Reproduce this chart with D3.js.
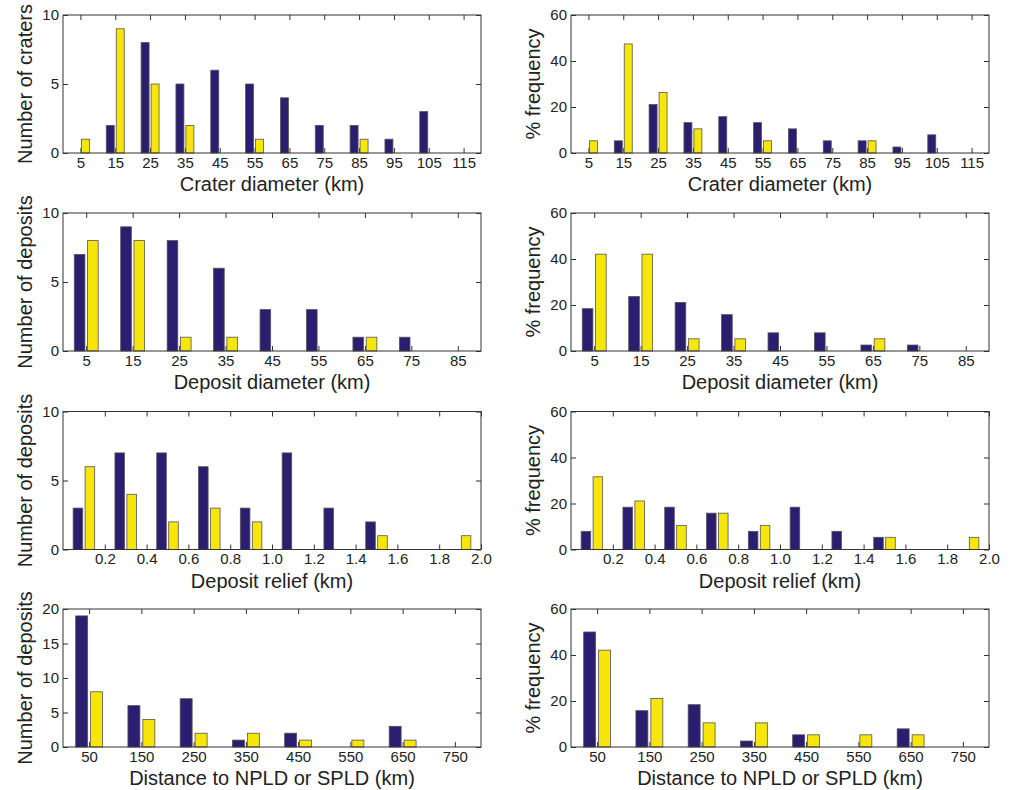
<!DOCTYPE html>
<html>
<head>
<meta charset="utf-8">
<script src="https://cdn.jsdelivr.net/npm/d3@7"></script>
<style>
  body { margin: 0; background: #fff; }
  svg { display: block; }
  text { font-family: "Liberation Sans", Arial, Helvetica, sans-serif; fill: #222; }
</style>
</head>
<body>
<svg id="fig" width="1010" height="790"></svg>
<script>
// ---- Crater diameter (bin centres, km) ----
const craterBins = [5, 15, 25, 35, 45, 55, 65, 75, 85, 95, 105, 115];
const craterCountA = [0, 2, 8, 5, 6, 5, 4, 2, 2, 1, 3, 0];
const craterCountB = [1, 9, 5, 2, 0, 1, 0, 0, 1, 0, 0, 0];
const craterPctA = [0, 5.3, 21.1, 13.2, 15.8, 13.2, 10.5, 5.3, 5.3, 2.6, 7.9, 0];
const craterPctB = [5.3, 47.4, 26.3, 10.5, 0, 5.3, 0, 0, 5.3, 0, 0, 0];

// ---- Deposit diameter (km) ----
const diamBins = [5, 15, 25, 35, 45, 55, 65, 75, 85];
const diamCountA = [7, 9, 8, 6, 3, 3, 1, 1, 0];
const diamCountB = [8, 8, 1, 1, 0, 0, 1, 0, 0];
const diamPctA = [18.4, 23.7, 21.1, 15.8, 7.9, 7.9, 2.6, 2.6, 0];
const diamPctB = [42.1, 42.1, 5.3, 5.3, 0, 0, 5.3, 0, 0];

// ---- Deposit relief (km) ----
const reliefBins = [0.1, 0.3, 0.5, 0.7, 0.9, 1.1, 1.3, 1.5, 1.7, 1.9];
const reliefTicks = [0.2, 0.4, 0.6, 0.8, 1.0, 1.2, 1.4, 1.6, 1.8, 2.0];
const reliefCountA = [3, 7, 7, 6, 3, 7, 3, 2, 0, 0];
const reliefCountB = [6, 4, 2, 3, 2, 0, 0, 1, 0, 1];
const reliefPctA = [7.9, 18.4, 18.4, 15.8, 7.9, 18.4, 7.9, 5.3, 0, 0];
const reliefPctB = [31.6, 21.1, 10.5, 15.8, 10.5, 0, 0, 5.3, 0, 5.3];

// ---- Distance to NPLD or SPLD (km) ----
const distBins = [50, 150, 250, 350, 450, 550, 650, 750];
const distCountA = [19, 6, 7, 1, 2, 0, 3, 0];
const distCountB = [8, 4, 2, 2, 1, 1, 1, 0];
const distPctA = [50, 15.8, 18.4, 2.6, 5.3, 0, 7.9, 0];
const distPctB = [42.1, 21.1, 10.5, 10.5, 5.3, 5.3, 5.3, 0];

// ---- Y tick values ----
const countTicks10 = [0, 5, 10];
const countTicks20 = [0, 5, 10, 15, 20];
const pctTicks = [0, 20, 40, 60];

const colorA = "#2b1d6f";
const colorB = "#f7e60a";

const colLeft = [63, 571];
const colRight = [481, 989];
const rowTop = [15, 213, 411.5, 609];
const plotH = 138;

const intFmt = d3.format("d");
const oneDec = d3.format(".1f");

const rows = [
  { bins: craterBins, xMax: 120, xTicks: craterBins, fmt: intFmt, xLabel: "Crater diameter (km)",
    left: { a: craterCountA, b: craterCountB, yMax: 10, yTicks: countTicks10, yLabel: "Number of craters" },
    right: { a: craterPctA, b: craterPctB, yMax: 60, yTicks: pctTicks, yLabel: "% frequency" } },
  { bins: diamBins, xMax: 90, xTicks: diamBins, fmt: intFmt, xLabel: "Deposit diameter (km)",
    left: { a: diamCountA, b: diamCountB, yMax: 10, yTicks: countTicks10, yLabel: "Number of deposits" },
    right: { a: diamPctA, b: diamPctB, yMax: 60, yTicks: pctTicks, yLabel: "% frequency" } },
  { bins: reliefBins, xMax: 2.0, xTicks: reliefTicks, fmt: oneDec, xLabel: "Deposit relief (km)",
    left: { a: reliefCountA, b: reliefCountB, yMax: 10, yTicks: countTicks10, yLabel: "Number of deposits" },
    right: { a: reliefPctA, b: reliefPctB, yMax: 60, yTicks: pctTicks, yLabel: "% frequency" } },
  { bins: distBins, xMax: 800, xTicks: distBins, fmt: intFmt, xLabel: "Distance to NPLD or SPLD (km)",
    left: { a: distCountA, b: distCountB, yMax: 20, yTicks: countTicks20, yLabel: "Number of deposits" },
    right: { a: distPctA, b: distPctB, yMax: 60, yTicks: pctTicks, yLabel: "% frequency" } }
];

const svg = d3.select("#fig");

function drawPanel(row, side, ri, ci) {
  const x0 = colLeft[ci], w = colRight[ci] - colLeft[ci];
  const y0 = rowTop[ri], h = plotH;
  const g = svg.append("g").attr("transform", `translate(${x0},${y0})`);

  const x = d3.scaleLinear().domain([0, row.xMax]).range([0, w]);
  const y = d3.scaleLinear().domain([0, side.yMax]).range([h, 0]);

  const styleAxis = sel => {
    sel.select(".domain").remove();
    sel.selectAll("line").attr("stroke", "#333").attr("stroke-width", 1);
    sel.selectAll("text").attr("font-size", 15).attr("fill", "#222")
      .style("font-family", '"Liberation Sans", Arial, Helvetica, sans-serif');
  };

  // inward ticks on all four sides
  g.append("g").attr("transform", `translate(0,${h})`)
    .call(d3.axisBottom(x).tickValues(row.xTicks).tickSizeInner(-5).tickSizeOuter(0)
      .tickPadding(4).tickFormat(row.fmt))
    .call(styleAxis);
  g.append("g")
    .call(d3.axisTop(x).tickValues(row.xTicks).tickSizeInner(-5).tickSizeOuter(0).tickFormat(""))
    .call(styleAxis);
  g.append("g")
    .call(d3.axisLeft(y).tickValues(side.yTicks).tickSizeInner(-5).tickSizeOuter(0)
      .tickPadding(4).tickFormat(intFmt))
    .call(styleAxis);
  g.append("g").attr("transform", `translate(${w},0)`)
    .call(d3.axisRight(y).tickValues(side.yTicks).tickSizeInner(-5).tickSizeOuter(0).tickFormat(""))
    .call(styleAxis);

  // grouped bars
  const stepPx = x(row.bins[1]) - x(row.bins[0]);
  const bw = 0.229 * stepPx;
  const off = 0.143 * stepPx;
  const series = [
    { vals: side.a, color: colorA, shift: -off },
    { vals: side.b, color: colorB, shift: off }
  ];
  series.forEach(s => {
    g.append("g").selectAll("rect")
      .data(row.bins.map((c, i) => ({ c, v: s.vals[i] })))
      .join("rect")
      .attr("x", d => x(d.c) + s.shift - bw / 2)
      .attr("y", d => y(d.v))
      .attr("width", bw)
      .attr("height", d => y(0) - y(d.v))
      .attr("fill", s.color)
      .attr("stroke", "#555")
      .attr("stroke-width", 0.8);
  });

  // axes box
  g.append("rect").attr("width", w).attr("height", h)
    .attr("fill", "none").attr("stroke", "#333").attr("stroke-width", 1);

  // axis titles
  g.append("text")
    .attr("x", w / 2).attr("y", h + 38)
    .attr("text-anchor", "middle").attr("font-size", 20)
    .text(row.xLabel);
  g.append("text")
    .attr("transform", `translate(-31,${h / 2}) rotate(-90)`)
    .attr("text-anchor", "middle").attr("font-size", 20)
    .text(side.yLabel);
}

rows.forEach((row, ri) => {
  drawPanel(row, row.left, ri, 0);
  drawPanel(row, row.right, ri, 1);
});
</script>
</body>
</html>
